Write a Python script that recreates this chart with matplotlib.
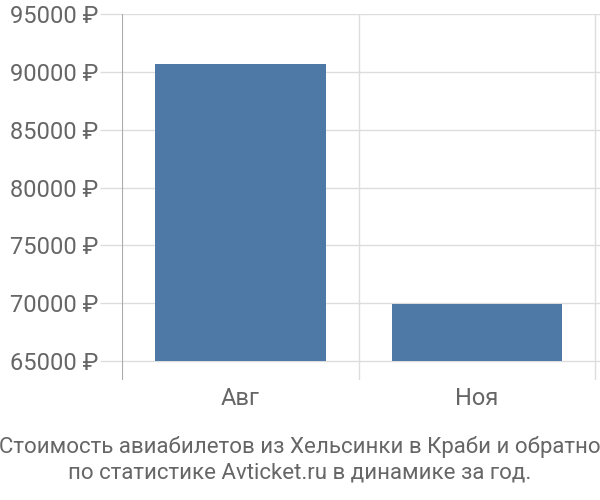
import matplotlib
matplotlib.use("Agg")
import matplotlib.pyplot as plt

months = ["Авг", "Ноя"]
prices = [90700, 69950]
yticks = [65000, 70000, 75000, 80000, 85000, 90000, 95000]
title = "Стоимость авиабилетов из Хельсинки в Краби и обратно\nпо статистике Avticket.ru в динамике за год."

plt.rcParams['font.family'] = ['Roboto', 'DejaVu Sans']

fig = plt.figure(figsize=(6, 5), dpi=100)
ax = fig.add_axes([122 / 600, 0.24, 478 / 600, 0.732])

x = list(range(len(months)))
base = 65000
ax.bar(x, [p - base for p in prices], bottom=base, width=0.72, color="#4e79a7", zorder=3)

ax.set_xlim(-0.5, 1.52)
ax.set_ylim(63360, 95000)
ax.set_yticks(yticks)
ax.set_yticklabels([f"{t} ₽" for t in yticks])
ax.set_xticks(x)
ax.set_xticklabels(months)

ax.grid(axis="y", color="#dddddd", linewidth=1, zorder=0)
for b in [0.5, 1.5]:
    ax.axvline(b, color="#dddddd", linewidth=1, zorder=0)
ax.axvline(-0.5, color="#aaaaaa", linewidth=1.5, zorder=4)

for s in ax.spines.values():
    s.set_visible(False)

ax.tick_params(axis="y", length=16, color="#dddddd", width=1, labelsize=17, labelcolor="#666666", pad=1)
ax.tick_params(axis="x", length=0, labelsize=17, labelcolor="#666666", pad=5)

fig.text(0.5, 0.08, title, ha="center", va="center", fontsize=16, color="#666666", linespacing=1.3)

fig.savefig("out.png")
